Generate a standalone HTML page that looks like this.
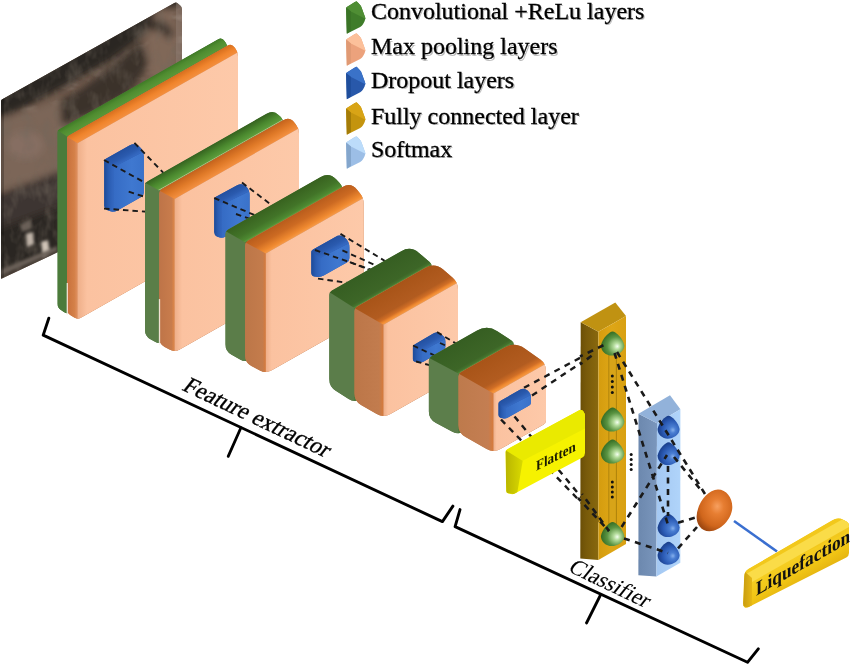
<!DOCTYPE html>
<html><head><meta charset="utf-8"><title>CNN diagram</title>
<style>html,body{margin:0;padding:0;background:#fff;width:850px;height:667px;overflow:hidden;font-family:"Liberation Serif",serif} svg{display:block;will-change:transform}</style>
</head><body>
<svg width="850" height="667" viewBox="0 0 850 667"><defs><clipPath id="c1"><path d="M1,101 Q1,100 1.9,99.5 L174.3,3 Q176,2 177.5,3.3 L180.5,5.7 Q182,7 182,9 L182,200 L57,252.6 L1.9,278.6 Q1,279 1,278 Z"/></clipPath><filter id="blur3" x="-20%" y="-20%" width="140%" height="140%"><feGaussianBlur stdDeviation="3.5"/></filter><filter id="blur1" x="-20%" y="-20%" width="140%" height="140%"><feGaussianBlur stdDeviation="1.8"/></filter><filter id="tex" x="0" y="0" width="100%" height="100%"><feTurbulence type="fractalNoise" baseFrequency="0.09 0.05" numOctaves="3" seed="3"/><feColorMatrix type="matrix" values="0 0 0 0 0.17  0 0 0 0 0.14  0 0 0 0 0.11  2.2 0 0 0 -0.95"/></filter><filter id="tex2" x="0" y="0" width="100%" height="100%"><feTurbulence type="fractalNoise" baseFrequency="0.05 0.09" numOctaves="3" seed="11"/><feColorMatrix type="matrix" values="0 0 0 0 0.62  0 0 0 0 0.54  0 0 0 0 0.47  2.6 0 0 0 -1.25"/></filter><clipPath id="c2"><path d="M60.8,310 Q57.5,307.8 57.5,303.8 L57.5,132.3 Q57.5,130.3 59.2,129.3 L217.7,39.4 Q222,36.9 224.7,41.2 L225.9,43 Q227.5,45.5 227.5,48.5 L227.5,221 Q227.5,223 225.8,224 L70,312.4 Q67,314.1 64.1,312.2 Z"/></clipPath><linearGradient id="g3" gradientUnits="userSpaceOnUse" x1="57.5" y1="130.3" x2="62.5" y2="139.1"><stop offset="0" stop-color="#3f7a26"/><stop offset="0.4" stop-color="#4f8c30"/><stop offset="1" stop-color="#5a9838"/></linearGradient><clipPath id="c4"><path d="M70.4,315.3 Q67,313.1 67,309.1 L67,138.6 Q67,136.6 68.7,135.6 L227.2,45.7 Q231.5,43.2 234.4,47.3 L235.7,49 Q238,52.2 238,56.2 L238,226.7 Q238,228.7 236.3,229.7 L81,317.8 Q77.5,319.8 74.1,317.6 Z"/></clipPath><linearGradient id="g5" gradientUnits="userSpaceOnUse" x1="67" y1="0" x2="77.5" y2="0"><stop offset="0" stop-color="#c8703c"/><stop offset="0.7" stop-color="#d48048"/><stop offset="1" stop-color="#e09060"/></linearGradient><linearGradient id="g6" gradientUnits="userSpaceOnUse" x1="67" y1="136.6" x2="72.4" y2="146.2"><stop offset="0" stop-color="#d8701f"/><stop offset="0.5" stop-color="#f0842c"/><stop offset="1" stop-color="#f49040"/></linearGradient><linearGradient id="g7" gradientUnits="userSpaceOnUse" x1="77.5" y1="143.3" x2="238" y2="143.3"><stop offset="0" stop-color="#eeae88"/><stop offset="0.06" stop-color="#fbc2a0"/><stop offset="1" stop-color="#fdc9a9"/></linearGradient><clipPath id="c8"><path d="M104.2,161.8 Q104.2,159.8 105.9,158.8 L129.4,145.6 Q134.6,142.6 139.2,146.4 L139.2,146.4 Q143.8,150.1 143.8,156.1 L143.8,192.5 Q143.8,195.5 141.2,197 L116.9,210.7 Q113.4,212.7 109.7,211.1 L107,210 Q104.2,208.8 104.2,205.8 Z"/></clipPath><linearGradient id="g9" gradientUnits="userSpaceOnUse" x1="104.2" y1="0" x2="113.4" y2="0"><stop offset="0" stop-color="#1d4a98"/><stop offset="0.5" stop-color="#2a5cb2"/><stop offset="1" stop-color="#3468c0"/></linearGradient><linearGradient id="g10" gradientUnits="userSpaceOnUse" x1="113.4" y1="0" x2="143.8" y2="0"><stop offset="0" stop-color="#356bc4"/><stop offset="0.6" stop-color="#3f78d0"/><stop offset="1" stop-color="#3a72ca"/></linearGradient><linearGradient id="g11" gradientUnits="userSpaceOnUse" x1="104.2" y1="159.8" x2="109.6" y2="169.4"><stop offset="0" stop-color="#2350a0"/><stop offset="0.6" stop-color="#2a5aae"/><stop offset="1" stop-color="#3468c0"/></linearGradient><clipPath id="c12"><path d="M150.3,339.2 Q145,336.3 145,330.3 L145,185.7 Q145,182.7 147.6,181.2 L266.4,113.8 Q273.4,109.8 278.5,114.9 L280.8,117.1 Q283.6,119.9 283.6,123.9 L283.6,271.5 Q283.6,273.5 281.9,274.5 L163.5,341.6 Q159.2,344.1 154.8,341.7 Z"/></clipPath><linearGradient id="g13" gradientUnits="userSpaceOnUse" x1="145" y1="182.7" x2="151.8" y2="194.7"><stop offset="0" stop-color="#35621f"/><stop offset="0.5" stop-color="#4a882e"/><stop offset="0.9" stop-color="#5c9c3c"/><stop offset="1" stop-color="#e8e0b0"/></linearGradient><clipPath id="c14"><path d="M164.5,347 Q159.2,344.1 159.2,338.1 L159.2,193.5 Q159.2,190.5 161.8,189 L282.6,120.4 Q289.6,116.5 294.3,122.4 L295.9,124.4 Q299,128.3 299,133.3 L299,279.9 Q299,281.9 297.3,282.9 L179.8,349.5 Q174.6,352.5 169.3,349.6 Z"/></clipPath><linearGradient id="g15" gradientUnits="userSpaceOnUse" x1="159.2" y1="0" x2="174.6" y2="0"><stop offset="0" stop-color="#be7448"/><stop offset="0.8" stop-color="#c87c4c"/><stop offset="1" stop-color="#e08848"/></linearGradient><linearGradient id="g16" gradientUnits="userSpaceOnUse" x1="159.2" y1="190.5" x2="166.6" y2="203.5"><stop offset="0" stop-color="#c4621c"/><stop offset="0.5" stop-color="#e07a28"/><stop offset="1" stop-color="#f49040"/></linearGradient><linearGradient id="g17" gradientUnits="userSpaceOnUse" x1="174.6" y1="198.9" x2="299" y2="198.9"><stop offset="0" stop-color="#eeae88"/><stop offset="0.06" stop-color="#fbc2a0"/><stop offset="1" stop-color="#fdc9a9"/></linearGradient><clipPath id="c18"><path d="M214.2,199.8 Q214.2,197.8 216,196.8 L236.7,185.5 Q242,182.6 245.8,186.1 L245.8,186.1 Q249.6,189.6 249.6,195.6 L249.6,220.4 Q249.6,223.4 247,224.8 L225.3,236.7 Q221.8,238.6 218.2,236.9 L216.9,236.4 Q214.2,235.1 214.2,232.1 Z"/></clipPath><linearGradient id="g19" gradientUnits="userSpaceOnUse" x1="214.2" y1="0" x2="221.8" y2="0"><stop offset="0" stop-color="#1d4a98"/><stop offset="0.5" stop-color="#2a5cb2"/><stop offset="1" stop-color="#3468c0"/></linearGradient><linearGradient id="g20" gradientUnits="userSpaceOnUse" x1="221.8" y1="0" x2="249.6" y2="0"><stop offset="0" stop-color="#356bc4"/><stop offset="0.6" stop-color="#3f78d0"/><stop offset="1" stop-color="#3a72ca"/></linearGradient><linearGradient id="g21" gradientUnits="userSpaceOnUse" x1="214.2" y1="197.8" x2="218.9" y2="206.4"><stop offset="0" stop-color="#2350a0"/><stop offset="0.6" stop-color="#2a5aae"/><stop offset="1" stop-color="#3468c0"/></linearGradient><clipPath id="c22"><path d="M231.5,354.7 Q225.4,351.2 225.4,344.2 L225.4,233.9 Q225.4,230.9 228,229.4 L320.6,176.9 Q329.3,171.9 336.1,179.3 L339.6,183 Q343,186.6 343,191.6 L343,303.9 Q343,306.9 340.4,308.4 L250.3,359.5 Q245.1,362.5 239.9,359.5 Z"/></clipPath><linearGradient id="g23" gradientUnits="userSpaceOnUse" x1="225.4" y1="230.9" x2="235" y2="247.9"><stop offset="0" stop-color="#38621f"/><stop offset="0.6" stop-color="#427428"/><stop offset="0.9" stop-color="#4e8a32"/><stop offset="1" stop-color="#62a03c"/></linearGradient><clipPath id="c24"><path d="M251.2,365.9 Q245.1,362.5 245.1,355.5 L245.1,245.2 Q245.1,242.2 247.7,240.7 L342.3,187 Q351,182.1 357.3,189.9 L359.9,193.3 Q363.7,197.9 363.7,203.9 L363.7,315.2 Q363.7,318.2 361.1,319.7 L271.9,370.3 Q265.8,373.8 259.7,370.4 Z"/></clipPath><linearGradient id="g25" gradientUnits="userSpaceOnUse" x1="245.1" y1="0" x2="265.8" y2="0"><stop offset="0" stop-color="#bc7648"/><stop offset="0.85" stop-color="#c47c4c"/><stop offset="1" stop-color="#d87a3a"/></linearGradient><linearGradient id="g26" gradientUnits="userSpaceOnUse" x1="245.1" y1="242.2" x2="255" y2="259.6"><stop offset="0" stop-color="#b85c1c"/><stop offset="0.45" stop-color="#cc6a22"/><stop offset="0.85" stop-color="#f08a30"/><stop offset="1" stop-color="#f69a48"/></linearGradient><linearGradient id="g27" gradientUnits="userSpaceOnUse" x1="265.8" y1="253.5" x2="363.7" y2="253.5"><stop offset="0" stop-color="#eeae88"/><stop offset="0.06" stop-color="#fbc2a0"/><stop offset="1" stop-color="#fdc9a9"/></linearGradient><clipPath id="c28"><path d="M311.3,252.4 Q311.3,250.4 313,249.4 L335.3,236.9 Q340.5,233.9 344.9,237.7 L344.9,237.7 Q349.4,241.4 349.4,247.4 L349.4,258.1 Q349.4,261.1 346.8,262.6 L323.7,275.6 Q320.2,277.6 316.3,276.8 L314.2,276.4 Q311.3,275.8 311.3,272.8 Z"/></clipPath><linearGradient id="g29" gradientUnits="userSpaceOnUse" x1="311.3" y1="0" x2="320.2" y2="0"><stop offset="0" stop-color="#1d4a98"/><stop offset="0.5" stop-color="#2a5cb2"/><stop offset="1" stop-color="#3468c0"/></linearGradient><linearGradient id="g30" gradientUnits="userSpaceOnUse" x1="320.2" y1="0" x2="349.4" y2="0"><stop offset="0" stop-color="#356bc4"/><stop offset="0.6" stop-color="#3f78d0"/><stop offset="1" stop-color="#3a72ca"/></linearGradient><linearGradient id="g31" gradientUnits="userSpaceOnUse" x1="311.3" y1="250.4" x2="316.7" y2="259.9"><stop offset="0" stop-color="#2350a0"/><stop offset="0.6" stop-color="#2a5aae"/><stop offset="1" stop-color="#3468c0"/></linearGradient><clipPath id="c32"><path d="M336,391.1 Q329.2,386.8 329.2,378.8 L329.2,295 Q329.2,292 331.8,290.5 L401.1,251.2 Q410.7,245.7 419,252.9 L429.6,262.1 Q431.9,264 431.8,267 L429,357.5 Q428.9,360.5 426.3,362 L360.5,399.3 Q354.4,402.8 348.5,399 Z"/></clipPath><linearGradient id="g33" gradientUnits="userSpaceOnUse" x1="329.2" y1="292" x2="342.2" y2="314.9"><stop offset="0" stop-color="#365e22"/><stop offset="0.85" stop-color="#3d6627"/><stop offset="0.95" stop-color="#45742e"/><stop offset="1" stop-color="#5a9438"/></linearGradient><clipPath id="c34"><path d="M361.3,405.3 Q354.4,401.3 354.4,393.3 L354.4,311 Q354.4,308 357,306.5 L425.3,267.7 Q434.9,262.3 443.2,269.5 L452.7,277.8 Q458,282.4 458,289.4 L458,372.7 Q458,375.7 455.4,377.2 L390.5,414.1 Q383.5,418 376.6,414 Z"/></clipPath><linearGradient id="g35" gradientUnits="userSpaceOnUse" x1="354.4" y1="0" x2="383.5" y2="0"><stop offset="0" stop-color="#bc7648"/><stop offset="0.85" stop-color="#c27c4e"/><stop offset="1" stop-color="#d87a3a"/></linearGradient><linearGradient id="g36" gradientUnits="userSpaceOnUse" x1="354.4" y1="308" x2="368.7" y2="333.1"><stop offset="0" stop-color="#a85418"/><stop offset="0.7" stop-color="#b25c20"/><stop offset="0.85" stop-color="#d06e26"/><stop offset="0.93" stop-color="#f08a30"/><stop offset="1" stop-color="#f49a48"/></linearGradient><linearGradient id="g37" gradientUnits="userSpaceOnUse" x1="383.5" y1="324.7" x2="458" y2="324.7"><stop offset="0" stop-color="#eeae88"/><stop offset="0.06" stop-color="#fbc2a0"/><stop offset="1" stop-color="#fdc9a9"/></linearGradient><clipPath id="c38"><path d="M412.9,347.4 Q412.9,345.4 414.6,344.4 L433.3,333.4 Q436.9,331.3 440.3,333.7 L442,334.9 Q445.4,337.3 445.4,341.5 L445.4,346.7 Q445.4,348.8 443.6,349.9 L423.8,361.5 Q421.4,362.9 418.6,362.4 L415,361.8 Q412.9,361.4 412.9,359.3 Z"/></clipPath><linearGradient id="g39" gradientUnits="userSpaceOnUse" x1="412.9" y1="0" x2="421.4" y2="0"><stop offset="0" stop-color="#1d4a98"/><stop offset="0.5" stop-color="#2a5cb2"/><stop offset="1" stop-color="#3468c0"/></linearGradient><linearGradient id="g40" gradientUnits="userSpaceOnUse" x1="421.4" y1="0" x2="445.4" y2="0"><stop offset="0" stop-color="#356bc4"/><stop offset="0.6" stop-color="#3f78d0"/><stop offset="1" stop-color="#3a72ca"/></linearGradient><linearGradient id="g41" gradientUnits="userSpaceOnUse" x1="412.9" y1="345.4" x2="417.7" y2="353.6"><stop offset="0" stop-color="#2350a0"/><stop offset="0.6" stop-color="#2a5aae"/><stop offset="1" stop-color="#3468c0"/></linearGradient><clipPath id="c42"><path d="M435.9,423 Q428.8,419.3 428.8,411.3 L428.8,360.8 Q428.8,357.8 431.4,356.3 L476.9,330.5 Q487.3,324.6 497.3,331.2 L511.4,340.4 Q513.9,342 513.8,345 L511,402.2 Q510.9,405.2 508.3,406.7 L464.5,431.5 Q458.4,435 452.2,431.7 Z"/></clipPath><linearGradient id="g43" gradientUnits="userSpaceOnUse" x1="428.8" y1="357.8" x2="442.7" y2="382.4"><stop offset="0" stop-color="#365e22"/><stop offset="0.85" stop-color="#3d6627"/><stop offset="0.95" stop-color="#45742e"/><stop offset="1" stop-color="#5a9438"/></linearGradient><clipPath id="c44"><path d="M465.4,437 Q458.4,433 458.4,425 L458.4,376.5 Q458.4,373.5 461,372 L504.5,347.4 Q514.9,341.4 524.7,348.4 L540.3,359.6 Q546,363.7 546,370.7 L546,420.2 Q546,423.2 543.4,424.7 L500.5,449.1 Q493.5,453 486.5,449 Z"/></clipPath><linearGradient id="g45" gradientUnits="userSpaceOnUse" x1="458.4" y1="0" x2="493.5" y2="0"><stop offset="0" stop-color="#be7a4c"/><stop offset="0.85" stop-color="#c47e52"/><stop offset="1" stop-color="#d87a3a"/></linearGradient><linearGradient id="g46" gradientUnits="userSpaceOnUse" x1="458.4" y1="373.5" x2="475.5" y2="403.7"><stop offset="0" stop-color="#a85418"/><stop offset="0.7" stop-color="#b25c20"/><stop offset="0.85" stop-color="#d06e26"/><stop offset="0.93" stop-color="#f08a30"/><stop offset="1" stop-color="#f49a48"/></linearGradient><linearGradient id="g47" gradientUnits="userSpaceOnUse" x1="493.5" y1="393.5" x2="546" y2="393.5"><stop offset="0" stop-color="#eeae88"/><stop offset="0.06" stop-color="#fbc2a0"/><stop offset="1" stop-color="#fdc9a9"/></linearGradient><clipPath id="c48"><path d="M498.5,404 Q498.5,402 500.2,401 L520.3,389.6 Q524,387.5 527.2,390.2 L527.8,390.8 Q531,393.5 531,397.7 L531,402.4 Q531,404.5 529.2,405.5 L507.9,417.6 Q505.5,419 502.8,418.3 L500.5,417.7 Q498.5,417.2 498.5,415.1 Z"/></clipPath><linearGradient id="g49" gradientUnits="userSpaceOnUse" x1="498.5" y1="0" x2="505.5" y2="0"><stop offset="0" stop-color="#1d4a98"/><stop offset="0.5" stop-color="#2a5cb2"/><stop offset="1" stop-color="#3468c0"/></linearGradient><linearGradient id="g50" gradientUnits="userSpaceOnUse" x1="505.5" y1="0" x2="531" y2="0"><stop offset="0" stop-color="#356bc4"/><stop offset="0.6" stop-color="#3f78d0"/><stop offset="1" stop-color="#3a72ca"/></linearGradient><linearGradient id="g51" gradientUnits="userSpaceOnUse" x1="498.5" y1="402" x2="502.8" y2="409.5"><stop offset="0" stop-color="#2350a0"/><stop offset="0.6" stop-color="#2a5aae"/><stop offset="1" stop-color="#3468c0"/></linearGradient><linearGradient id="g52" gradientUnits="userSpaceOnUse" x1="580" y1="0" x2="598" y2="0"><stop offset="0" stop-color="#6a4e06"/><stop offset="0.35" stop-color="#785a0a"/><stop offset="1" stop-color="#88680e"/></linearGradient><linearGradient id="g53" gradientUnits="userSpaceOnUse" x1="598" y1="0" x2="626" y2="0"><stop offset="0" stop-color="#d49c0e"/><stop offset="0.5" stop-color="#dea616"/><stop offset="1" stop-color="#d8a012"/></linearGradient><radialGradient id="r54" cx="0.62" cy="0.6" r="0.62" fx="0.7" fy="0.62"><stop offset="0" stop-color="#f4fff0"/><stop offset="0.22" stop-color="#b4dc9c"/><stop offset="0.62" stop-color="#5a9442"/><stop offset="1" stop-color="#336a22"/></radialGradient><radialGradient id="r55" cx="0.62" cy="0.6" r="0.62" fx="0.7" fy="0.62"><stop offset="0" stop-color="#f4fff0"/><stop offset="0.22" stop-color="#b4dc9c"/><stop offset="0.62" stop-color="#5a9442"/><stop offset="1" stop-color="#336a22"/></radialGradient><radialGradient id="r56" cx="0.62" cy="0.6" r="0.62" fx="0.7" fy="0.62"><stop offset="0" stop-color="#f4fff0"/><stop offset="0.22" stop-color="#b4dc9c"/><stop offset="0.62" stop-color="#5a9442"/><stop offset="1" stop-color="#336a22"/></radialGradient><radialGradient id="r57" cx="0.62" cy="0.6" r="0.62" fx="0.7" fy="0.62"><stop offset="0" stop-color="#f4fff0"/><stop offset="0.22" stop-color="#b4dc9c"/><stop offset="0.62" stop-color="#5a9442"/><stop offset="1" stop-color="#336a22"/></radialGradient><clipPath id="c58"><path d="M508.2,493.4 Q506.2,493 506.2,491 L505.5,452.2 Q505.5,450.2 507.3,449.2 L576.8,411.4 Q581.2,409 583.1,411 L583.1,411 Q585,413 585,417 L585,453 Q585,456 582.4,457.4 L514.8,493.6 Q513,494.5 511,494.1 Z"/></clipPath><linearGradient id="g59" gradientUnits="userSpaceOnUse" x1="505" y1="0" x2="522" y2="0"><stop offset="0" stop-color="#b8b400"/><stop offset="1" stop-color="#d8d800"/></linearGradient><linearGradient id="g60" gradientUnits="userSpaceOnUse" x1="638" y1="0" x2="657" y2="0"><stop offset="0" stop-color="#6c88ae"/><stop offset="1" stop-color="#7a96bc"/></linearGradient><linearGradient id="g61" gradientUnits="userSpaceOnUse" x1="657" y1="0" x2="680" y2="0"><stop offset="0" stop-color="#a4c8f2"/><stop offset="1" stop-color="#b0d4fa"/></linearGradient><radialGradient id="r62" cx="0.62" cy="0.6" r="0.62" fx="0.7" fy="0.62"><stop offset="0" stop-color="#86b0ec"/><stop offset="0.22" stop-color="#4a7ed2"/><stop offset="0.62" stop-color="#2c5cb6"/><stop offset="1" stop-color="#183c88"/></radialGradient><radialGradient id="r63" cx="0.62" cy="0.6" r="0.62" fx="0.7" fy="0.62"><stop offset="0" stop-color="#86b0ec"/><stop offset="0.22" stop-color="#4a7ed2"/><stop offset="0.62" stop-color="#2c5cb6"/><stop offset="1" stop-color="#183c88"/></radialGradient><radialGradient id="r64" cx="0.62" cy="0.6" r="0.62" fx="0.7" fy="0.62"><stop offset="0" stop-color="#86b0ec"/><stop offset="0.22" stop-color="#4a7ed2"/><stop offset="0.62" stop-color="#2c5cb6"/><stop offset="1" stop-color="#183c88"/></radialGradient><radialGradient id="r65" cx="0.62" cy="0.6" r="0.62" fx="0.7" fy="0.62"><stop offset="0" stop-color="#86b0ec"/><stop offset="0.22" stop-color="#4a7ed2"/><stop offset="0.62" stop-color="#2c5cb6"/><stop offset="1" stop-color="#183c88"/></radialGradient><radialGradient id="r66" cx="0.56" cy="0.42" r="0.62" fx="0.58" fy="0.4"><stop offset="0" stop-color="#f7a060"/><stop offset="0.3" stop-color="#e77e32"/><stop offset="0.75" stop-color="#d0661c"/><stop offset="1" stop-color="#a24a12"/></radialGradient><clipPath id="c67"><path d="M744.5,607.2 Q743,606 743.1,603 L744.2,576.3 Q744.4,571.3 748.7,568.8 L831.9,520.5 Q838,517 843.5,520 L846.4,521.6 Q849,523 849,526 L849,553 Q849,556 846.3,557.4 L748.7,607.1 Q746,608.5 744.5,607.2 Z"/></clipPath><linearGradient id="g68" gradientUnits="userSpaceOnUse" x1="752" y1="578" x2="767.8" y2="605.8"><stop offset="0" stop-color="#f6d024"/><stop offset="0.6" stop-color="#f0c414"/><stop offset="1" stop-color="#e2b010"/></linearGradient><linearGradient id="g69" gradientUnits="userSpaceOnUse" x1="743" y1="0" x2="752" y2="0"><stop offset="0" stop-color="#c89c10"/><stop offset="1" stop-color="#e6b814"/></linearGradient></defs><rect width="850" height="667" fill="#fff"/><g clip-path="url(#c1)"><rect x="0" y="0" width="185" height="285" fill="#705a4c"/><rect x="0" y="0" width="185" height="285" filter="url(#tex2)" opacity="0.35"/><g filter="url(#blur3)"><path d="M-10,90 L190,-20 L190,0 L160,12 L140,38 L112,60 L62,88 L30,105 L0,119 Z" fill="#2a2620"/><ellipse cx="40" cy="118" rx="9" ry="7" fill="#3a322c"/><ellipse cx="72" cy="104" rx="10" ry="8" fill="#332c26"/><ellipse cx="100" cy="88" rx="9" ry="9" fill="#3a322c"/><ellipse cx="125" cy="70" rx="8" ry="9" fill="#2e2822"/><ellipse cx="12" cy="125" rx="8" ry="5" fill="#3a322c"/><path d="M40,112 L80,90 L112,66 L140,42 L150,62 L130,92 L95,112 L60,126 L40,128 Z" fill="#3a3029"/><ellipse cx="163" cy="50" rx="16" ry="42" fill="#806858"/><path d="M148,22 Q165,14 174,34 L168,40 Q160,26 150,32 Z" fill="#3a302a"/><path d="M-5,122 L60,100 L64,170 L-5,192 Z" fill="#7c6658"/><ellipse cx="25" cy="145" rx="18" ry="14" fill="#866e62"/><path d="M-5,196 L62,170 L62,208 L-5,232 Z" fill="#3e3630"/><path d="M-5,230 L62,205 L62,252 L-5,282 Z" fill="#2c2723"/></g><rect x="0" y="0" width="185" height="285" filter="url(#tex)" opacity="0.5"/><g filter="url(#blur1)"><path d="M26,234 L33,232 L34,244 L27,247 Z" fill="#c0b4a8"/><path d="M41,242 L48,240 L50,254 L43,258 Z" fill="#d0c4b8"/><path d="M20,225 L30,220 L32,228 L22,232 Z" fill="#6a6058"/><path d="M0,270 L57,246 L57,251 L0,276 Z" fill="#6a6058"/></g><rect x="0" y="0" width="4" height="285" fill="#000" opacity="0.22"/><path d="M176,0 L185,0 L185,285 L176,285 Z" fill="#9a8a80" opacity="0.35"/></g><g clip-path="url(#c2)"><rect x="55.5" y="32.9" width="176" height="283.2" fill="#4b7b3b"/><polygon points="57.5,130.3 67,136.6 67,314.1 57.5,307.8" fill="#4b7b3b" /><polygon points="57.5,130.3 252,19.9 257.5,28.5 67,136.6" fill="url(#g3)" /><polygon points="67,136.6 232.5,42.7 232.5,220.2 67,314.1" fill="#4a7a3a" /></g><g clip-path="url(#c4)"><rect x="65" y="39.2" width="177" height="282.6" fill="#cf7c45"/><polygon points="67,136.6 77.5,143.3 77.5,319.8 67,313.1" fill="url(#g5)" /><polygon points="67,136.6 261.5,26.2 268,35.2 77.5,143.3" fill="url(#g6)" /><polygon points="77.5,143.3 243,49.4 243,225.9 77.5,319.8" fill="url(#g7)" /></g><line x1="67.3" y1="283.1" x2="67.3" y2="315.1" stroke="#fbf4ec" stroke-width="1.3" opacity="0.85"/><g clip-path="url(#c8)"><rect x="101.2" y="139.6" width="45.6" height="76.1" fill="#2c5eb4"/><polygon points="102.2,157.8 113.4,167.3 113.4,216.7 102.2,212.8" fill="url(#g9)" /><polygon points="113.4,167.3 146.8,150.1 146.8,199.5 113.4,216.7" fill="url(#g10)" /><polygon points="102.2,159.8 134.6,140.6 146.8,150.1 113.4,167.3" fill="url(#g11)" /></g><line x1="134.4" y1="142.8" x2="205" y2="216" stroke="#1a1a1a" stroke-width="1.9" stroke-dasharray="5.5 4" stroke-dashoffset="0"/><line x1="104" y1="160" x2="205" y2="216" stroke="#1a1a1a" stroke-width="1.9" stroke-dasharray="5.5 4" stroke-dashoffset="0"/><line x1="128.7" y1="191.7" x2="205" y2="216" stroke="#1a1a1a" stroke-width="1.9" stroke-dasharray="5.5 4" stroke-dashoffset="0"/><line x1="104" y1="208.6" x2="205" y2="216" stroke="#1a1a1a" stroke-width="1.9" stroke-dasharray="5.5 4" stroke-dashoffset="0"/><g clip-path="url(#c12)"><rect x="143" y="105.8" width="144.6" height="240.3" fill="#5a7e48"/><polygon points="145,182.7 159.2,190.5 159.2,344.1 145,336.3" fill="#5a7e48" /><polygon points="145,182.7 303.4,92.8 313.6,102.9 159.2,190.5" fill="url(#g13)" /><polygon points="159.2,190.5 288.6,117.1 288.6,270.7 159.2,344.1" fill="#4a7a3a" /></g><g clip-path="url(#c14)"><rect x="157.2" y="112.5" width="145.8" height="242" fill="#c57a4b"/><polygon points="159.2,190.5 174.6,198.9 174.6,352.5 159.2,344.1" fill="url(#g15)" /><polygon points="159.2,190.5 319.6,99.5 329,111.3 174.6,198.9" fill="url(#g16)" /><polygon points="174.6,198.9 304,125.5 304,279.1 174.6,352.5" fill="url(#g17)" /></g><line x1="159.5" y1="299.1" x2="159.5" y2="345.1" stroke="#fbf4ec" stroke-width="1.3" opacity="0.85"/><g clip-path="url(#c18)"><rect x="211.2" y="179.6" width="41.4" height="62" fill="#2c5eb4"/><polygon points="212.2,195.8 221.8,204.8 221.8,242.6 212.2,239.1" fill="url(#g19)" /><polygon points="221.8,204.8 252.6,189.6 252.6,227.4 221.8,242.6" fill="url(#g20)" /><polygon points="212.2,197.8 242,180.6 252.6,189.6 221.8,204.8" fill="url(#g21)" /></g><line x1="242" y1="182.6" x2="323" y2="244" stroke="#1a1a1a" stroke-width="1.9" stroke-dasharray="5.5 4" stroke-dashoffset="0"/><line x1="214.2" y1="198" x2="323" y2="244" stroke="#1a1a1a" stroke-width="1.9" stroke-dasharray="5.5 4" stroke-dashoffset="0"/><line x1="236" y1="214" x2="323" y2="244" stroke="#1a1a1a" stroke-width="1.9" stroke-dasharray="5.5 4" stroke-dashoffset="0"/><g clip-path="url(#c22)"><rect x="223.4" y="167.9" width="123.6" height="196.6" fill="#5b7d49"/><polygon points="225.4,230.9 245.1,242.2 245.1,362.5 225.4,351.2" fill="#5b7d49" /><polygon points="225.4,230.9 359.3,154.9 373,169.6 245.1,242.2" fill="url(#g23)" /><polygon points="245.1,242.2 348,183.8 348,304.1 245.1,362.5" fill="#4a7a3a" /></g><g clip-path="url(#c24)"><rect x="243.1" y="178.1" width="124.6" height="197.7" fill="#c27a4b"/><polygon points="245.1,242.2 265.8,253.5 265.8,373.8 245.1,362.5" fill="url(#g25)" /><polygon points="245.1,242.2 381,165.1 393.7,180.9 265.8,253.5" fill="url(#g26)" /><polygon points="265.8,253.5 368.7,195.1 368.7,315.4 265.8,373.8" fill="url(#g27)" /></g><g clip-path="url(#c28)"><rect x="308.3" y="230.9" width="44.1" height="49.7" fill="#2c5eb4"/><polygon points="309.3,248.4 320.2,257.9 320.2,281.6 309.3,279.8" fill="url(#g29)" /><polygon points="320.2,257.9 352.4,241.4 352.4,265.1 320.2,281.6" fill="url(#g30)" /><polygon points="309.3,250.4 340.5,231.9 352.4,241.4 320.2,257.9" fill="url(#g31)" /></g><line x1="340.5" y1="233.9" x2="390" y2="264" stroke="#1a1a1a" stroke-width="1.9" stroke-dasharray="5.5 4" stroke-dashoffset="0"/><line x1="342.4" y1="250.4" x2="385" y2="269.6" stroke="#1a1a1a" stroke-width="1.9" stroke-dasharray="5.5 4" stroke-dashoffset="0"/><line x1="315" y1="250" x2="372" y2="270" stroke="#1a1a1a" stroke-width="1.9" stroke-dasharray="5.5 4" stroke-dashoffset="0"/><line x1="349.9" y1="262.2" x2="380" y2="274" stroke="#1a1a1a" stroke-width="1.9" stroke-dasharray="5.5 4" stroke-dashoffset="0"/><line x1="318" y1="278.6" x2="350" y2="283.2" stroke="#1a1a1a" stroke-width="1.9" stroke-dasharray="5.5 4" stroke-dashoffset="0"/><g clip-path="url(#c32)"><rect x="327.2" y="241.7" width="108.7" height="163.1" fill="#5b7d4a"/><polygon points="329.2,292 354.4,308 354.4,402.8 329.2,386.8" fill="#5b7d4a" /><polygon points="329.2,292 440.7,228.7 461.9,247 354.4,308" fill="url(#g33)" /><polygon points="354.4,308 436.9,261.2 433.9,357.7 354.4,402.8" fill="#4a7a3a" /></g><g clip-path="url(#c34)"><rect x="352.4" y="258.3" width="109.6" height="161.7" fill="#c07b4d"/><polygon points="354.4,308 383.5,324.7 383.5,418 354.4,401.3" fill="url(#g35)" /><polygon points="354.4,308 464.9,245.3 488,265.4 383.5,324.7" fill="url(#g36)" /><polygon points="383.5,324.7 463,279.6 463,372.9 383.5,418" fill="url(#g37)" /></g><g clip-path="url(#c38)"><rect x="409.9" y="328.3" width="38.5" height="37.6" fill="#2c5eb4"/><polygon points="410.9,343.4 421.4,351.4 421.4,366.9 410.9,365.4" fill="url(#g39)" /><polygon points="421.4,351.4 448.4,337.3 448.4,352.8 421.4,366.9" fill="url(#g40)" /><polygon points="410.9,345.4 436.9,329.3 448.4,337.3 421.4,351.4" fill="url(#g41)" /></g><line x1="437" y1="332" x2="460" y2="346" stroke="#1a1a1a" stroke-width="1.9" stroke-dasharray="5.5 4" stroke-dashoffset="0"/><line x1="440" y1="343" x2="460" y2="352" stroke="#1a1a1a" stroke-width="1.9" stroke-dasharray="5.5 4" stroke-dashoffset="0"/><line x1="413" y1="345.5" x2="440" y2="358" stroke="#1a1a1a" stroke-width="1.9" stroke-dasharray="5.5 4" stroke-dashoffset="0"/><line x1="416" y1="361.5" x2="440" y2="368" stroke="#1a1a1a" stroke-width="1.9" stroke-dasharray="5.5 4" stroke-dashoffset="0"/><g clip-path="url(#c42)"><rect x="426.8" y="320.6" width="91.1" height="116.4" fill="#5c7e4b"/><polygon points="428.8,357.8 458.4,373.5 458.4,435 428.8,419.3" fill="#5c7e4b" /><polygon points="428.8,357.8 517.3,307.6 543.9,325 458.4,373.5" fill="url(#g43)" /><polygon points="458.4,373.5 518.9,339.2 515.9,402.4 458.4,435" fill="#4a7a3a" /></g><g clip-path="url(#c44)"><rect x="456.4" y="337.4" width="93.6" height="117.6" fill="#c27d50"/><polygon points="458.4,373.5 493.5,393.5 493.5,453 458.4,433" fill="url(#g45)" /><polygon points="458.4,373.5 544.9,324.4 576,346.7 493.5,393.5" fill="url(#g46)" /><polygon points="493.5,393.5 551,360.9 551,420.4 493.5,453" fill="url(#g47)" /></g><g clip-path="url(#c48)"><rect x="495.5" y="384.5" width="38.5" height="37.5" fill="#2c5eb4"/><polygon points="496.5,400 505.5,408 505.5,423 496.5,421.2" fill="url(#g49)" /><polygon points="505.5,408 534,393.5 534,408.5 505.5,423" fill="url(#g50)" /><polygon points="496.5,402 524,385.5 534,393.5 505.5,408" fill="url(#g51)" /></g><line x1="524" y1="387.8" x2="606" y2="344" stroke="#1a1a1a" stroke-width="2.4" stroke-dasharray="6 5.5" stroke-dashoffset="0"/><line x1="532" y1="395.5" x2="592" y2="355.5" stroke="#1a1a1a" stroke-width="2.4" stroke-dasharray="6 5.5" stroke-dashoffset="0"/><line x1="501" y1="419.5" x2="612.6" y2="535" stroke="#1a1a1a" stroke-width="2.4" stroke-dasharray="6 5.5" stroke-dashoffset="0"/><line x1="514.5" y1="416.5" x2="612.6" y2="535" stroke="#1a1a1a" stroke-width="2.4" stroke-dasharray="6 5.5" stroke-dashoffset="0"/><polygon points="580.7,322.2 598.4,331.7 598.4,560 580.3,558.4" fill="url(#g52)" /><polygon points="580.7,322.2 615.3,302.4 626,316 598.4,331.7" fill="#c09212" /><polygon points="598.4,331.7 626,316 626,544 598.4,560" fill="url(#g53)" /><line x1="609" y1="350" x2="609" y2="540" stroke="#a07808" stroke-width="1"/><line x1="616.2" y1="350" x2="616.2" y2="536" stroke="#a07808" stroke-width="1"/><rect x="609.5" y="350" width="6.2" height="186" fill="#d8a418"/><path d="M612.6,331.5 C615.9,331.5 623.2,338.7 624.4,345.4 C624.4,351.2 617.8,355.5 611.7,355.5 C606,355.5 600.9,351.2 600.9,345.4 C602,338.7 609.3,331.5 612.6,331.5 Z" fill="url(#r54)"/><path d="M612.6,407.5 C615.9,407.5 623.2,414.7 624.4,421.4 C624.4,427.2 617.8,431.5 611.7,431.5 C606,431.5 600.9,427.2 600.9,421.4 C602,414.7 609.3,407.5 612.6,407.5 Z" fill="url(#r55)"/><path d="M612.6,439.5 C615.9,439.5 623.2,446.7 624.4,453.4 C624.4,459.2 617.8,463.5 611.7,463.5 C606,463.5 600.9,459.2 600.9,453.4 C602,446.7 609.3,439.5 612.6,439.5 Z" fill="url(#r56)"/><path d="M612.6,522 C615.9,522 623.2,529.2 624.4,535.9 C624.4,541.7 617.8,546 611.7,546 C606,546 600.9,541.7 600.9,535.9 C602,529.2 609.3,522 612.6,522 Z" fill="url(#r57)"/><circle cx="612.3" cy="376" r="1.5" fill="#111"/><circle cx="612.3" cy="381.5" r="1.5" fill="#111"/><circle cx="612.3" cy="387" r="1.5" fill="#111"/><circle cx="612.3" cy="392.5" r="1.5" fill="#111"/><circle cx="612.3" cy="482" r="1.5" fill="#111"/><circle cx="612.3" cy="487" r="1.5" fill="#111"/><circle cx="612.3" cy="492" r="1.5" fill="#111"/><circle cx="612.3" cy="497" r="1.5" fill="#111"/><circle cx="631.2" cy="454.5" r="1.5" fill="#111"/><circle cx="631.2" cy="459.5" r="1.5" fill="#111"/><circle cx="631.2" cy="464.5" r="1.5" fill="#111"/><circle cx="631.2" cy="469.5" r="1.5" fill="#111"/><g clip-path="url(#c58)"><rect x="500" y="400" width="95" height="100" fill="#f6f200"/><polygon points="505.5,450.2 581.2,409 592,416 592,425 522.7,460.7" fill="#eaea00" /><polygon points="505.5,450.2 522.7,460.7 517,494.5 506.2,493" fill="url(#g59)" /></g><text transform="matrix(0.9,-0.46,0,1,536,471)" font-family="Liberation Serif" font-weight="bold" font-size="14.5" fill="#1a1a00">Flatten</text><line x1="580" y1="356.5" x2="606" y2="344" stroke="#1a1a1a" stroke-width="2.6" stroke-dasharray="6 5.5" stroke-dashoffset="3"/><line x1="580" y1="364.5" x2="592" y2="355.5" stroke="#1a1a1a" stroke-width="2.6" stroke-dasharray="6 5.5" stroke-dashoffset="3"/><line x1="578" y1="498" x2="609" y2="531" stroke="#1a1a1a" stroke-width="2.6" stroke-dasharray="6 5.5" stroke-dashoffset="2"/><line x1="582" y1="494" x2="609" y2="531" stroke="#1a1a1a" stroke-width="2.6" stroke-dasharray="6 5.5" stroke-dashoffset="5"/><polygon points="638.5,413.8 657,423.2 656.4,576.5 638.4,575.3" fill="url(#g60)" /><polygon points="638.5,413.8 670,395.3 680.4,409.3 657,423.2" fill="#92b2da" /><polygon points="657,423.2 680.4,409.3 680.3,562.7 656.4,576.5" fill="url(#g61)" /><path d="M668.6,415.8 C671.7,415.8 678.5,422.7 679.6,429.1 C679.6,434.7 673.4,438.8 667.7,438.8 C662.4,438.8 657.6,434.7 657.6,429.1 C658.7,422.7 665.5,415.8 668.6,415.8 Z" fill="url(#r62)"/><path d="M668.6,442.3 C671.7,442.3 678.5,449.2 679.6,455.6 C679.6,461.2 673.4,465.3 667.7,465.3 C662.4,465.3 657.6,461.2 657.6,455.6 C658.7,449.2 665.5,442.3 668.6,442.3 Z" fill="url(#r63)"/><path d="M668.6,514.1 C671.7,514.1 678.5,521 679.6,527.4 C679.6,533 673.4,537.1 667.7,537.1 C662.4,537.1 657.6,533 657.6,527.4 C658.7,521 665.5,514.1 668.6,514.1 Z" fill="url(#r64)"/><path d="M668.6,541.7 C671.7,541.7 678.5,548.6 679.6,555 C679.6,560.6 673.4,564.7 667.7,564.7 C662.4,564.7 657.6,560.6 657.6,555 C658.7,548.6 665.5,541.7 668.6,541.7 Z" fill="url(#r65)"/><line x1="614.5" y1="353" x2="668" y2="525" stroke="#1a1a1a" stroke-width="2.6" stroke-dasharray="6 5.5" stroke-dashoffset="0"/><line x1="621.6" y1="527" x2="667" y2="455" stroke="#1a1a1a" stroke-width="2.6" stroke-dasharray="6 5.5" stroke-dashoffset="0"/><line x1="624" y1="538.4" x2="668" y2="553" stroke="#1a1a1a" stroke-width="2.6" stroke-dasharray="6 5.5" stroke-dashoffset="0"/><line x1="668" y1="466" x2="668" y2="516" stroke="#1a1a1a" stroke-width="2.6" stroke-dasharray="6 5.5" stroke-dashoffset="0"/><line x1="674" y1="457" x2="700" y2="489" stroke="#1a1a1a" stroke-width="2.6" stroke-dasharray="6 5.5" stroke-dashoffset="0"/><line x1="678" y1="522.7" x2="697" y2="517" stroke="#1a1a1a" stroke-width="2.6" stroke-dasharray="6 5.5" stroke-dashoffset="0"/><line x1="678" y1="548.3" x2="697" y2="527" stroke="#1a1a1a" stroke-width="2.6" stroke-dasharray="6 5.5" stroke-dashoffset="0"/><line x1="617" y1="352" x2="705" y2="494" stroke="#1a1a1a" stroke-width="2.6" stroke-dasharray="6 5.5" stroke-dashoffset="0"/><path d="M718,489.6 C726.5,489.6 732.6,498 732.3,507.5 C732,518.5 721,531.2 709.3,531.2 C701,531.2 696.4,524 696.6,516.5 C697,504 707.5,489.6 718,489.6 Z" fill="url(#r66)"/><line x1="734" y1="521" x2="777" y2="551.5" stroke="#3a6fd0" stroke-width="2.6"/><g clip-path="url(#c67)"><rect x="740" y="510" width="115" height="105" fill="url(#g68)"/><polygon points="744.4,571.3 838,517 856,519 856,528 752,578" fill="#f2c81c" /><polygon points="744.4,575 850,515 856,519 856,523 752,582" fill="#fadc48" /><polygon points="744.4,571.3 752,578 752,608.5 743,606" fill="url(#g69)" /></g><text transform="matrix(0.866,-0.5,0,1,756,596)" font-family="Liberation Serif" font-weight="bold" font-size="20" fill="#111">Liquefaction</text><polyline points="48.8,318.2 43.2,335.1 442.4,521.6 452.9,506.1" fill="none" stroke="#000" stroke-width="2.9" stroke-linejoin="round" stroke-linecap="round"/><line x1="240.9" y1="427.8" x2="228.2" y2="456.4" stroke="#000" stroke-width="2.8" stroke-linecap="round"/><polyline points="460,509.6 455.1,526.6 747.5,662.3 758.3,648.8" fill="none" stroke="#000" stroke-width="2.9" stroke-linejoin="round" stroke-linecap="round"/><line x1="600" y1="596" x2="586.5" y2="623" stroke="#000" stroke-width="2.8" stroke-linecap="round"/><text transform="translate(181,389.5) rotate(25.3) skewX(-13)" font-family="Liberation Serif" font-size="23.4" fill="#000" stroke="#000" stroke-width="0.35">Feature extractor</text><text transform="translate(567,570.8) rotate(25.5) skewX(-13)" font-family="Liberation Serif" font-size="22.5" fill="#000" stroke="#000" stroke-width="0.1">Classifier</text><path d="M346.1,8.5 Q346.1,7.5 346.9,7 L354.8,2.1 Q356.5,1 357.8,2.5 L359.7,4.5 Q361,6 361.7,7.9 L364.9,16.7 Q365.8,19 364.6,21.2 L363,24.2 Q362,26 360.2,26.9 L347.7,33.3 Q346.8,33.8 346.8,32.8 Z" fill="#3f7c2a"/><path d="M346.1,7.5 L356.5,1 L361,6 L365.8,19 L351,11.5 Z" fill="#4f8e34"/><path d="M346.1,7.5 L351,11.5 L351,31 L346.8,33.8 Z" fill="#3a7426"/><text x="372.2" y="20.2" font-family="Liberation Serif" font-size="24" fill="#888" opacity="0.55">Convolutional +ReLu layers</text><text x="370.9" y="18.9" font-family="Liberation Serif" font-size="24" fill="#000" stroke="#000" stroke-width="0.3">Convolutional +ReLu layers</text><path d="M346.1,40.5 Q346.1,39.5 346.9,39 L354.8,34.1 Q356.5,33 357.8,34.5 L359.7,36.5 Q361,38 361.7,39.9 L364.9,48.7 Q365.8,51 364.6,53.2 L363,56.2 Q362,58 360.2,58.9 L347.7,65.3 Q346.8,65.8 346.8,64.8 Z" fill="#eca27c"/><path d="M346.1,39.5 L356.5,33 L361,38 L365.8,51 L351,43.5 Z" fill="#fcc09a"/><path d="M346.1,39.5 L351,43.5 L351,63 L346.8,65.8 Z" fill="#e09a74"/><text x="372.2" y="55.6" font-family="Liberation Serif" font-size="24" fill="#888" opacity="0.55">Max pooling layers</text><text x="370.9" y="54.3" font-family="Liberation Serif" font-size="24" fill="#000" stroke="#000" stroke-width="0.3">Max pooling layers</text><path d="M346.1,73.9 Q346.1,72.9 346.9,72.4 L354.8,67.5 Q356.5,66.4 357.8,67.9 L359.7,69.9 Q361,71.4 361.7,73.3 L364.9,82.1 Q365.8,84.4 364.6,86.6 L363,89.6 Q362,91.4 360.2,92.3 L347.7,98.7 Q346.8,99.2 346.8,98.2 Z" fill="#2858aa"/><path d="M346.1,72.9 L356.5,66.4 L361,71.4 L365.8,84.4 L351,76.9 Z" fill="#3a72c8"/><path d="M346.1,72.9 L351,76.9 L351,96.4 L346.8,99.2 Z" fill="#1f4e9c"/><text x="372.2" y="89.1" font-family="Liberation Serif" font-size="24" fill="#888" opacity="0.55">Dropout layers</text><text x="370.9" y="87.8" font-family="Liberation Serif" font-size="24" fill="#000" stroke="#000" stroke-width="0.3">Dropout layers</text><path d="M346.1,109.5 Q346.1,108.5 346.9,108 L354.8,103.1 Q356.5,102 357.8,103.5 L359.7,105.5 Q361,107 361.7,108.9 L364.9,117.7 Q365.8,120 364.6,122.2 L363,125.2 Q362,127 360.2,127.9 L347.7,134.3 Q346.8,134.8 346.8,133.8 Z" fill="#c4940e"/><path d="M346.1,108.5 L356.5,102 L361,107 L365.8,120 L351,112.5 Z" fill="#d8a416"/><path d="M346.1,108.5 L351,112.5 L351,132 L346.8,134.8 Z" fill="#a47c08"/><text x="372.2" y="125.2" font-family="Liberation Serif" font-size="24" fill="#888" opacity="0.55">Fully connected layer</text><text x="370.9" y="123.9" font-family="Liberation Serif" font-size="24" fill="#000" stroke="#000" stroke-width="0.3">Fully connected layer</text><path d="M346.1,143.5 Q346.1,142.5 346.9,142 L354.8,137.1 Q356.5,136 357.8,137.5 L359.7,139.5 Q361,141 361.7,142.9 L364.9,151.7 Q365.8,154 364.6,156.2 L363,159.2 Q362,161 360.2,161.9 L347.7,168.3 Q346.8,168.8 346.8,167.8 Z" fill="#9cbee6"/><path d="M346.1,142.5 L356.5,136 L361,141 L365.8,154 L351,146.5 Z" fill="#bcdcfa"/><path d="M346.1,142.5 L351,146.5 L351,166 L346.8,168.8 Z" fill="#84a6cc"/><text x="372.2" y="158.4" font-family="Liberation Serif" font-size="24" fill="#888" opacity="0.55">Softmax</text><text x="370.9" y="157.1" font-family="Liberation Serif" font-size="24" fill="#000" stroke="#000" stroke-width="0.3">Softmax</text></svg>
</body></html>
